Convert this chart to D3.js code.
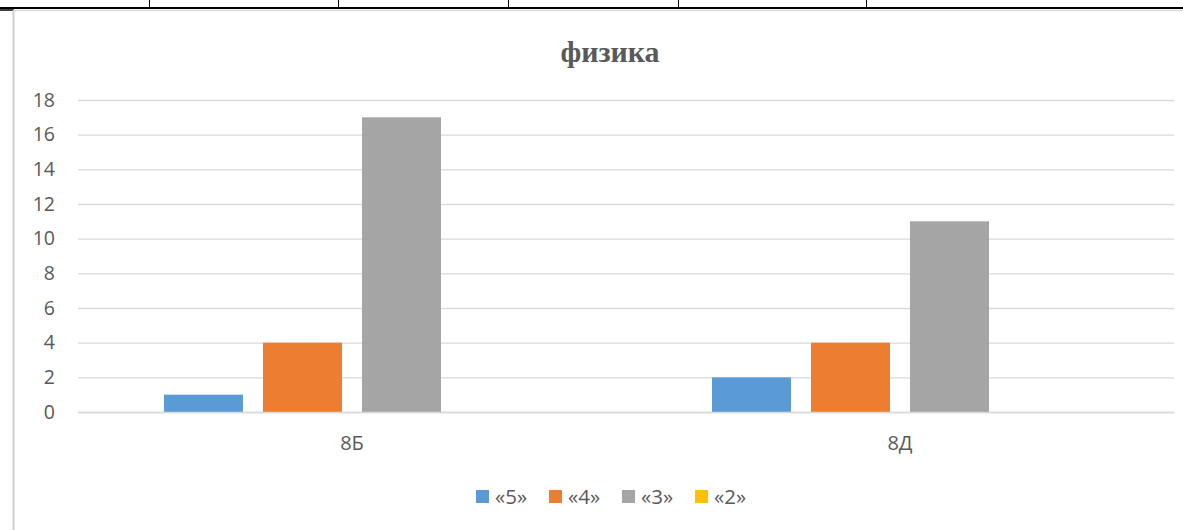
<!DOCTYPE html>
<html><head><meta charset="utf-8">
<script src="https://cdn.jsdelivr.net/npm/d3@7"></script>
<style>body{margin:0;background:#fff;}svg{display:block;}</style>
</head><body>
<script>
const title = "физика";
const categories = ["8Б", "8Д"];
const seriesNames = ["«5»", "«4»", "«3»", "«2»"];
const seriesColors = ["#5b9bd5", "#ed7d31", "#a5a5a5", "#ffc000"];
const values5 = [1, 2];
const values4 = [4, 4];
const values3 = [17, 11];
const values2 = [0, 0];
const yTicks = [0, 2, 4, 6, 8, 10, 12, 14, 16, 18];
const tableColumnEdges = [149, 338, 508, 678, 866];

const seriesValues = [values5, values4, values3, values2];
const W = 1183, H = 530;
const svg = d3.select("body").append("svg").attr("width", W).attr("height", H);
const font = "'Open Sans', 'Noto Sans', sans-serif";

// table fragment above the chart
svg.append("line").attr("x1", 0).attr("x2", W).attr("y1", 8).attr("y2", 8)
  .attr("stroke", "#000").attr("stroke-width", 2);
svg.selectAll(".tcol").data(tableColumnEdges).enter().append("line")
  .attr("x1", d => d + 0.5).attr("x2", d => d + 0.5).attr("y1", 0).attr("y2", 8)
  .attr("stroke", "#000").attr("stroke-width", 1);
svg.append("line").attr("x1", 0).attr("x2", 14).attr("y1", 10).attr("y2", 10)
  .attr("stroke", "#000").attr("stroke-width", 1.5);

// chart frame
svg.append("line").attr("x1", 13).attr("x2", W).attr("y1", 10.5).attr("y2", 10.5)
  .attr("stroke", "#d9d9d9").attr("stroke-width", 1.5);
svg.append("line").attr("x1", 13.5).attr("x2", 13.5).attr("y1", 10).attr("y2", H)
  .attr("stroke", "#d0d0d0").attr("stroke-width", 2);

const plot = {left: 78, right: 1174, top: 100, bottom: 412};
const y = d3.scaleLinear().domain([0, 18]).range([plot.bottom, plot.top]);
const x0 = d3.scaleBand().domain(categories).range([plot.left, plot.right]).paddingInner(0).paddingOuter(0);
const x1 = d3.scaleBand().domain(seriesNames).range([0, 376]).paddingInner(20 / 99).paddingOuter(0);

// gridlines
const yAxis = d3.axisLeft(y).tickValues(yTicks).tickSize(-(plot.right - plot.left)).tickPadding(23);
const ga = svg.append("g").attr("transform", `translate(${plot.left},0)`).call(yAxis);
ga.select(".domain").remove();
ga.selectAll(".tick line").attr("stroke", "#d9d9d9").attr("stroke-width", 1.3);
ga.selectAll(".tick text").attr("fill", "#595959").attr("font-size", 19.5).attr("font-family", font);

// bars
const groups = svg.selectAll(".grp").data(categories).enter().append("g")
  .attr("transform", c => `translate(${x0(c) + x0.bandwidth() / 2 - 188},0)`);
groups.selectAll("rect").data((c, ci) => seriesNames.map((s, si) => ({s, si, v: seriesValues[si][ci]})))
  .enter().append("rect")
  .attr("x", d => x1(d.s)).attr("width", x1.bandwidth())
  .attr("y", d => y(d.v)).attr("height", d => y(0) - y(d.v))
  .attr("fill", d => seriesColors[d.si]);

// category axis
const xAxis = d3.axisBottom(x0).tickSize(0).tickPadding(24);
const gx = svg.append("g").attr("transform", `translate(0,${plot.bottom})`).call(xAxis);
gx.select(".domain").attr("stroke", "#d9d9d9").attr("stroke-width", 1.3);
gx.selectAll(".tick text").attr("fill", "#595959").attr("font-size", 20).attr("font-family", font);

// title
svg.append("text").attr("x", 610).attr("y", 62).attr("text-anchor", "middle")
  .attr("font-family", "'Liberation Serif', 'Times New Roman', serif").attr("font-weight", "bold")
  .attr("font-size", 30).attr("fill", "#595959").text(title);

// legend
const legendX = [476, 549, 622, 695];
const lg = svg.selectAll(".lg").data(seriesNames).enter().append("g")
  .attr("transform", (d, i) => `translate(${legendX[i]},490)`);
lg.append("rect").attr("width", 13).attr("height", 13).attr("fill", (d, i) => seriesColors[i]);
lg.append("text").attr("x", 19).attr("y", 13.5).attr("fill", "#595959")
  .attr("font-size", 20.5).attr("font-family", font).text(d => d);
</script>
</body></html>
